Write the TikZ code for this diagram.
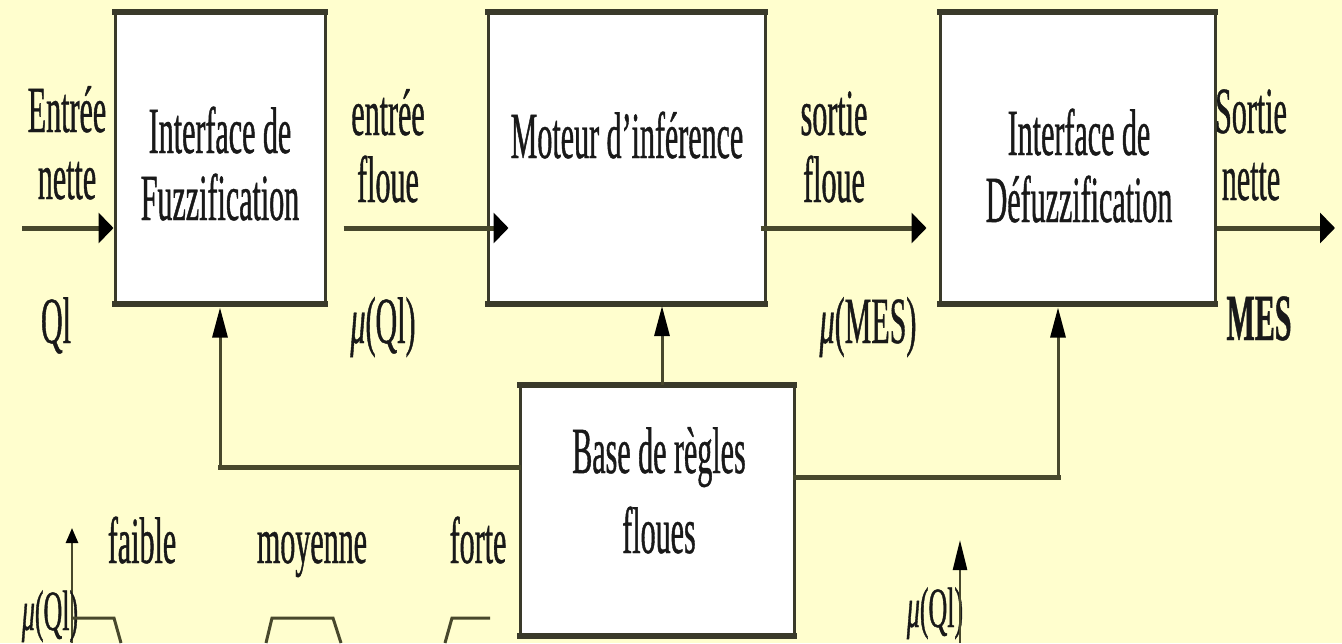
\documentclass[tikz,border=0pt]{standalone}
\usepackage{fontspec}
\setmainfont{Liberation Serif}[FakeStretch=0.455,FakeBold=0.6]
\usetikzlibrary{arrows.meta,calc}
\definecolor{bg}{RGB}{255,254,206}
\definecolor{ln}{RGB}{72,72,44}
\definecolor{bd}{RGB}{58,58,42}
\tikzset{
  box/.style={draw=bd, line width=3pt, fill=white, inner sep=0pt},
  edge/.style={draw=bd, line width=6pt, shorten <=-1.5pt, shorten >=-1.5pt},
  txt/.style={font=\fontsize{66}{67}\selectfont, inner sep=0pt, align=center, text=black!90},
  small/.style={font=\fontsize{57}{60}\selectfont},
  hl/.style={draw=ln, line width=5pt, line cap=rect},
  vl/.style={draw=ln, line width=3pt},
  harr/.style={draw=ln, line width=5pt, -{Triangle[length=15pt,width=30pt,color=black]}},
  varr/.style={vl, -{Triangle[length=30pt,width=15pt,color=black]}},
  sarr/.style={draw=ln, line width=2.5pt, -{Triangle[length=15pt,width=12pt,color=black]}},
  mf/.style={draw=ln, line width=3pt, line join=miter},
}
\begin{document}
\begin{tikzpicture}[x=1pt,y=-1pt]
\useasboundingbox (0,0) rectangle (1342,643);
\fill[bg] (0,0) rectangle (1342,643);

% boxes
\node[box, minimum width=210pt, minimum height=289pt] (b1) at (220,157.5) {};
\node[box, minimum width=277pt, minimum height=289pt] (b2) at (626.5,157.5) {};
\node[box, minimum width=275pt, minimum height=289pt] (b3) at (1077.5,157.5) {};
\node[box, minimum width=274pt, minimum height=248pt] (b4) at (657,510) {};
\foreach \b in {b1,b2,b3,b4}{
  \draw[edge] (\b.north west) -- (\b.north east);
  \draw[edge] (\b.south west) -- (\b.south east);
}

% box texts (anchor=base is the baseline of the last line)
\node[txt, anchor=base] (t1) at (220,220) {Interface de\\Fuzzification};
\node[txt, anchor=base] (t2) at (627,158) {Moteur d'inférence};
\node[txt, anchor=base] (t3) at (1079,222) {Interface de\\Défuzzification};
\node[txt, anchor=base, font=\fontsize{66}{80}\selectfont] (t4) at (659,553) {Base de règles\\floues};

% main horizontal line
\coordinate (in) at (22,228);
\coordinate (out) at (1335,228);
\draw[harr] (in) -- (in -| b1.west);
\draw[harr] ($(in -| b1.east)+(17,0)$) -- ($(in -| b2.west)+(22,0)$);
\draw[harr] ($(in -| b2.east)+(-6,0)$) -- ($(in -| b3.west)+(-12,0)$);
\draw[harr] (in -| b3.east) -- (out);

% feedback connectors from the rule base
\coordinate (c2) at (662,306);
\draw[varr] (b4.north -| c2) -- (c2);
\coordinate (kl) at (220,467);
\draw[hl] (b4.west |- kl) -- (kl);
\draw[varr] (kl) -- ($(kl |- b1.south)+(0,4)$);
\coordinate (kr) at (1058,477);
\draw[hl] (b4.east |- kr) -- (kr);
\draw[varr] (kr) -- ($(kr |- b3.south)+(0,4)$);

% signal labels
\node[txt, anchor=base] (l1) at (67,199) {Entrée\\nette};
\node[txt, anchor=base] (l2) at (388,202) {entrée\\floue};
\node[txt, anchor=base] (l3) at (834,202) {sortie\\floue};
\node[txt, anchor=base] (l4) at (1251,200) {Sortie\\nette};
\node[txt, anchor=base] (m1) at (56,343) {Ql};
\node[txt, anchor=base] (m2) at (383,343) {{\itshape μ}(Ql)};
\node[txt, anchor=base] (m3) at (868,343) {{\itshape μ}(MES)};
\node[txt, anchor=base] (m4) at (1259,340) {\bfseries MES};

% membership functions (bottom left)
\coordinate (a1b) at (72,643);
\coordinate (a1t) at (72,528);
\draw[sarr] (a1b) -- (a1t);
\node[txt, anchor=base] (f1) at (142,563) {faible};
\node[txt, anchor=base] (f2) at (312,563) {moyenne};
\node[txt, anchor=base] (f3) at (478,563) {forte};
\node[txt, small, anchor=base] (mu1) at (50,630) {{\itshape μ}(Ql)};
\draw[mf] (72,618) -- (114,618) -- (121,643);
\draw[mf] (266,643) -- (272,618) -- (333,618) -- (341,643);
\draw[mf] (445,643) -- (452,618) -- (490,618);

% output axis (bottom right)
\node[txt, small, anchor=base] (mu2) at (935,627) {{\itshape μ}(Ql)};
\coordinate (a2b) at (960,643);
\coordinate (a2t) at (960,540);
\draw[draw=ln, line width=2.5pt, -{Triangle[length=30pt,width=14pt,color=black]}] (a2b) -- (a2t);
\end{tikzpicture}
\end{document}
